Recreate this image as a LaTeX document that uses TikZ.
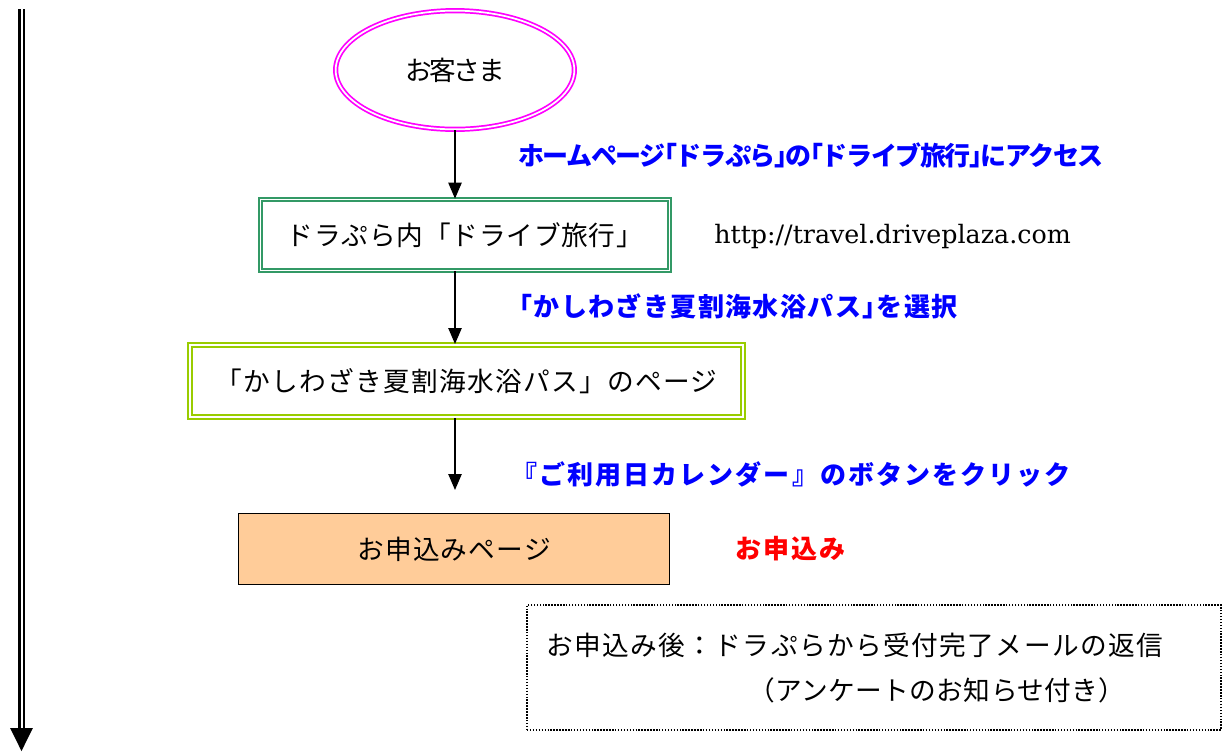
\documentclass[tikz,border=0pt]{standalone}
\usepackage{fontspec}
\usepackage{xcolor}
\usetikzlibrary{arrows.meta,shapes.geometric}

\newfontfamily\jpfont{Noto Sans CJK JP}
\newfontfamily\urlfont{DejaVu Serif}
\newcommand{\jpsp}[1]{\addfontfeature{LetterSpace=#1}}
\newcommand{\jphalf}[1]{\addfontfeature{RawFeature=+halt,LetterSpace=#1}}

\definecolor{guestpink}{RGB}{255,0,255}
\definecolor{drapuragreen}{RGB}{51,153,102}
\definecolor{passlime}{RGB}{153,204,0}
\definecolor{applypeach}{RGB}{255,204,153}

\begin{document}
\begin{tikzpicture}[x=0.75pt,y=0.75pt,yscale=-1,xscale=1,
  flowarrow/.style={line width=1.1pt,-{Triangle[width=10pt,length=12pt]}},
  jptext/.style={font=\fontsize{20}{24}\selectfont\jpfont},
  bluelabel/.style={anchor=west,inner sep=0pt,text=blue,font=\fontsize{19.5}{24}\selectfont\jpfont\bfseries},
  dblbox/.style={draw=#1,double,line width=1.3pt,double distance=1.3pt,inner sep=0pt}]
\useasboundingbox (0,0) rectangle (1223,751);

%Shape: Ellipse
\node[dblbox=guestpink,ellipse,minimum width=179pt,minimum height=89pt,jptext] (guest) at (455,70) {\jpsp{-9}お客さま};
%Shape: Double Rectangle
\node[dblbox=drapuragreen,minimum width=306.75pt,minimum height=53.25pt,jptext] (drapura) at (465,235) {\jpsp{3}ドラぷら内「ドライブ旅行」};
%Shape: Double Rectangle
\node[dblbox=passlime,line width=1.5pt,double distance=1.5pt,minimum width=414.75pt,minimum height=54pt,jptext] (passpage) at (466.5,381) {\jpsp{5}「かしわざき夏割海水浴パス」のページ};
%Shape: Rectangle
\node[draw,line width=1.1pt,fill=applypeach,minimum width=323pt,minimum height=53pt,jptext] (applypage) at (454,549) {\jpsp{4.5}お申込みページ};
%Shape: Rectangle
\node[draw,line width=1.1pt,dash pattern=on 1.1pt off 1.1pt,minimum width=520.5pt,minimum height=93.75pt] (afternote) at (874,667.5) {};

%Straight Lines
\coordinate (clickend) at (455,490);
\draw[flowarrow] (guest.south) -- (guest.south |- drapura.north);
\draw[flowarrow] (drapura.south -| guest.south) -- (passpage.north -| guest.south);
\draw[flowarrow] (passpage.south -| guest.south) -- (clickend);

%Double Arrow
\coordinate (flowtop) at (21.5,9);
\coordinate (flowend) at (21.5,728);
\coordinate (flowtip) at (21.5,751);
\draw[line width=1.95pt,double,double distance=1.5pt] (flowtop) -- (flowend);
\fill ([xshift=-8.6pt]flowend) -- ([xshift=8.6pt]flowend) -- (flowtip) -- cycle;

% Text Node
\node[bluelabel] (accesslabel) at (518,155) {\jphalf{-5.5}ホームページ「ドラぷら」の「ドライブ旅行」にアクセス};
% Text Node
\node[anchor=west,inner sep=0pt,font=\fontsize{19}{24}\selectfont\urlfont] (urllabel) at (714,237) {http://travel.driveplaza.com};
% Text Node
\node[bluelabel] (selectlabel) at (519,306) {\jphalf{5.4}「かしわざき夏割海水浴パス」を選択};
% Text Node
\node[bluelabel] (clicklabel) at (511,474) {\jpsp{8}『ご利用日カレンダー』のボタンをクリック};
% Text Node
\node[bluelabel,text=red] (applylabel) at (735,549) {\jpsp{7.5}お申込み};
% Text Node
\node[jptext,anchor=west,inner sep=0pt] (noteline) at (546,645) {\jpsp{5.4}お申込み後：ドラぷらから受付完了メールの返信};
% Text Node
\node[jptext,anchor=west,inner sep=0pt] (notesub) at (748,690) {\jpsp{1.6}（アンケートのお知らせ付き）};

\end{tikzpicture}
\end{document}
